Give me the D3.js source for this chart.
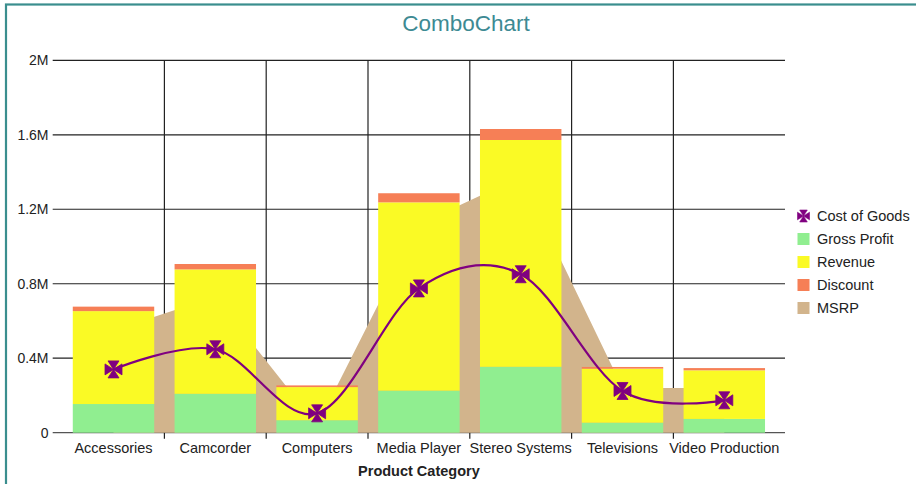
<!DOCTYPE html>
<html>
<head>
<meta charset="utf-8">
<script src="https://cdn.jsdelivr.net/npm/d3@7"></script>
<style>
  html, body { margin: 0; padding: 0; background: #fff; }
  svg { display: block; font-family: "Liberation Sans", Arial, sans-serif; }
</style>
</head>
<body>
<svg id="chart" width="916" height="484"></svg>
<script>
const categories = ["Accessories", "Camcorder", "Computers", "Media Player", "Stereo Systems", "Televisions", "Video Production"];
const grossProfit = [154000, 209000, 67000, 226000, 354000, 54000, 74000];
const revenue     = [499000, 668000, 178000, 1011000, 1218000, 290000, 261000];
const discount    = [24000, 29000, 9000, 49000, 59000, 9000, 12000];
const msrp        = [550000, 730000, 40000, 1120000, 1375000, 240000, 240000];
const costOfGoods = [340000, 448000, 104000, 775000, 851000, 224000, 174000];
const yTicks = [0, 400000, 800000, 1200000, 1600000, 2000000];
const legendItems = ["Cost of Goods", "Gross Profit", "Revenue", "Discount", "MSRP"];

const colors = {
  "Gross Profit": "#90EE90",
  "Revenue": "#FAFA25",
  "Discount": "#F67F56",
  "MSRP": "#D2B48C",
  "Cost of Goods": "#800080"
};

const svg = d3.select("#chart");

// frame
svg.append("rect").attr("x", 6).attr("y", 4.5).attr("width", 940).attr("height", 500)
  .attr("fill", "none").attr("stroke", "#3A8E8E").attr("stroke-width", 2.2);

// title
svg.append("text").attr("x", 466).attr("y", 30.5).attr("text-anchor", "middle")
  .attr("font-size", 22.5).attr("fill", "#3D8A93").text("ComboChart");

const x = d3.scaleBand().domain(categories).range([62.6, 775.2]).paddingInner(0.2).paddingOuter(0.1);
const y = d3.scaleLinear().domain([0, 2000000]).range([432.7, 60.3]);
const step = x.step();

const gridColor = "#222";
// horizontal grid lines
svg.append("g").selectAll("line").data(yTicks).join("line")
  .attr("x1", 52.7).attr("x2", 785)
  .attr("y1", d => y(d)).attr("y2", d => y(d))
  .attr("stroke", d => d === 0 ? "#555" : gridColor).attr("stroke-width", 1.2);

// vertical grid lines at band boundaries
const boundaries = categories.slice(1);
svg.append("g").selectAll("line").data(boundaries).join("line")
  .attr("x1", d => x(d) - step * x.paddingInner() / 2)
  .attr("x2", d => x(d) - step * x.paddingInner() / 2)
  .attr("y1", y(2000000)).attr("y2", y(0) + 6)
  .attr("stroke", gridColor).attr("stroke-width", 1.2);

// y tick labels
svg.append("g").selectAll("text").data(yTicks).join("text")
  .attr("x", 48.5).attr("y", d => y(d)).attr("dy", "0.35em")
  .attr("text-anchor", "end").attr("font-size", 14).attr("fill", "#222")
  .text(d => d === 0 ? "0" : (d / 1e6) + "M");

// x tick labels
svg.append("g").selectAll("text").data(categories).join("text")
  .attr("x", d => x(d) + x.bandwidth() / 2).attr("y", 453)
  .attr("text-anchor", "middle").attr("font-size", 14.5).attr("fill", "#222")
  .text(d => d);

// x axis title
svg.append("text").attr("x", (62.6 + 775.2) / 2).attr("y", 476)
  .attr("text-anchor", "middle").attr("font-size", 14.5).attr("font-weight", "bold").attr("fill", "#222")
  .text("Product Category");

const cx = c => x(c) + x.bandwidth() / 2;

// MSRP area
const area = d3.area()
  .x((d, i) => cx(categories[i]))
  .y0(y(0))
  .y1(d => y(d))
  .curve(d3.curveLinear);
svg.append("path").datum(msrp).attr("d", area).attr("fill", colors["MSRP"]);

// stacked bars
const rows = categories.map((c, i) => ({ cat: c, "Gross Profit": grossProfit[i], "Revenue": revenue[i], "Discount": discount[i] }));
const stack = d3.stack().keys(["Gross Profit", "Revenue", "Discount"]);
const series = stack(rows);
svg.append("g").selectAll("g").data(series).join("g")
  .attr("fill", s => colors[s.key])
  .selectAll("rect").data(s => s).join("rect")
  .attr("x", d => x(d.data.cat))
  .attr("width", x.bandwidth())
  .attr("y", d => y(d[1]))
  .attr("height", d => y(d[0]) - y(d[1]));

// Cost of Goods line
const line = d3.line()
  .x((d, i) => cx(categories[i]))
  .y(d => y(d))
  .curve(d3.curveCardinal);
svg.append("path").datum(costOfGoods).attr("d", line)
  .attr("fill", "none").attr("stroke", colors["Cost of Goods"]).attr("stroke-width", 2.2);

function crossPath(s, w) {
  // four triangles pointing to the centre (cross pattee)
  return `M0,0L${-w},${-s}L${w},${-s}Z` +
         `M0,0L${s},${-w}L${s},${w}Z` +
         `M0,0L${w},${s}L${-w},${s}Z` +
         `M0,0L${-s},${w}L${-s},${-w}Z`;
}

svg.append("g").selectAll("path").data(costOfGoods).join("path")
  .attr("transform", (d, i) => `translate(${cx(categories[i])},${y(d)})`)
  .attr("d", crossPath(8.5, 5.5))
  .attr("fill", colors["Cost of Goods"])
  .attr("stroke", colors["Cost of Goods"]).attr("stroke-width", 0.8).attr("stroke-linejoin", "round");

// legend
const lg = svg.append("g").attr("transform", "translate(797,216)");
const li = lg.selectAll("g").data(legendItems).join("g")
  .attr("transform", (d, i) => `translate(0,${i * 23})`);
li.each(function(d) {
  const g = d3.select(this);
  if (d === "Cost of Goods") {
    g.append("path").attr("transform", "translate(6.5,0)").attr("d", crossPath(6, 3.8))
      .attr("fill", colors[d]).attr("stroke", colors[d]).attr("stroke-width", 0.6);
  } else {
    g.append("rect").attr("x", 0.5).attr("y", -6).attr("width", 12).attr("height", 12).attr("fill", colors[d]);
  }
  g.append("text").attr("x", 20).attr("y", 0).attr("dy", "0.35em")
    .attr("font-size", 14.5).attr("fill", "#222").text(d);
});
</script>
</body>
</html>
